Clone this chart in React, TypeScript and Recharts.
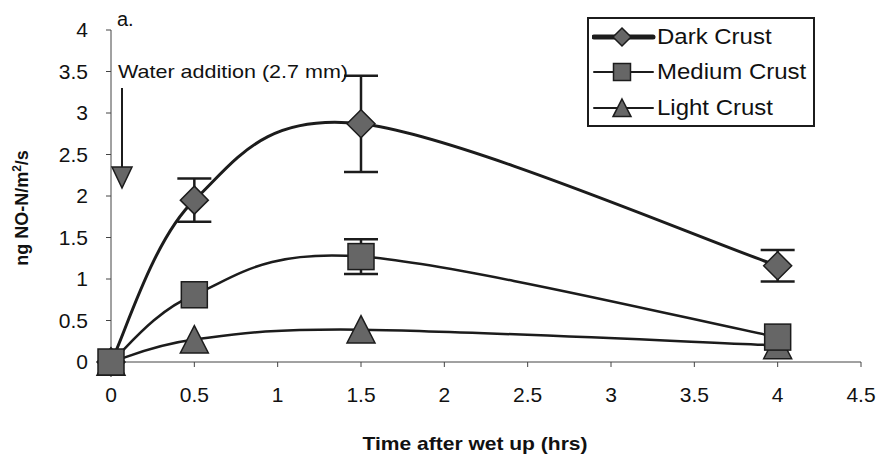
import { LineChart, Line, XAxis, YAxis, ErrorBar, Legend } from 'recharts'

const hours = [0, 0.5, 1.5, 4]
const darkCrust = [0, 1.95, 2.87, 1.16]
const darkCrustErr = [null, 0.26, 0.58, 0.19]
const mediumCrust = [0, 0.81, 1.27, 0.3]
const mediumCrustErr = [null, null, 0.21, null]
const lightCrust = [0, 0.27, 0.39, 0.2]

const xTicks = [0, 0.5, 1, 1.5, 2, 2.5, 3, 3.5, 4, 4.5]
const yTicks = [0, 0.5, 1, 1.5, 2, 2.5, 3, 3.5, 4]
const seriesNames = ['Dark Crust', 'Medium Crust', 'Light Crust']

const data = hours.map((h, i) => ({
  hours: h,
  dark: darkCrust[i],
  darkErr: darkCrustErr[i],
  medium: mediumCrust[i],
  mediumErr: mediumCrustErr[i],
  light: lightCrust[i],
}))

const FONT = "'Liberation Sans', Arial, sans-serif"
const INK = '#1c1c1c'
const MARKER_FILL = '#666'

// Excel-like smoothed line (Catmull-Rom through the points)
function smoothCurve(context: any) {
  let pts: [number, number][] = []
  return {
    areaStart() {},
    areaEnd() {},
    lineStart() { pts = [] },
    point(x: number, y: number) { pts.push([x, y]) },
    lineEnd() {
      if (!pts.length) return
      context.moveTo(pts[0][0], pts[0][1])
      for (let i = 0; i < pts.length - 1; i++) {
        const p0 = pts[i - 1] || pts[i]
        const p1 = pts[i]
        const p2 = pts[i + 1]
        const p3 = pts[i + 2] || p2
        const t = 1 / 6
        context.bezierCurveTo(
          p1[0] + (p2[0] - p0[0]) * t, p1[1] + (p2[1] - p0[1]) * t,
          p2[0] - (p3[0] - p1[0]) * t, p2[1] - (p3[1] - p1[1]) * t,
          p2[0], p2[1],
        )
      }
    },
  }
}

function Diamond({ cx, cy, s = 14 }: { cx: number; cy: number; s?: number }) {
  return (
    <polygon
      points={`${cx},${cy - s} ${cx + s},${cy} ${cx},${cy + s} ${cx - s},${cy}`}
      fill={MARKER_FILL} stroke={INK} strokeWidth={1.5}
    />
  )
}

function Square({ cx, cy, s = 13 }: { cx: number; cy: number; s?: number }) {
  return <rect x={cx - s} y={cy - s} width={s * 2} height={s * 2} fill={MARKER_FILL} stroke={INK} strokeWidth={1.5} />
}

function Triangle({ cx, cy, s = 14 }: { cx: number; cy: number; s?: number }) {
  return (
    <polygon
      points={`${cx},${cy - s} ${cx + s},${cy + s * 0.95} ${cx - s},${cy + s * 0.95}`}
      fill={MARKER_FILL} stroke={INK} strokeWidth={1.5}
    />
  )
}

function LegendBox() {
  const rows = [
    { name: seriesNames[0], width: 5, mark: <Diamond cx={30} cy={18} s={9} /> },
    { name: seriesNames[1], width: 2, mark: <Square cx={30} cy={18} s={8.5} /> },
    { name: seriesNames[2], width: 2, mark: <Triangle cx={30} cy={18} s={9} /> },
  ]
  return (
    <div style={{
      width: 228, height: 110, boxSizing: 'border-box', border: `2px solid ${INK}`,
      background: '#fff', fontFamily: FONT, fontSize: 22, color: '#111',
    }}>
      {rows.map(r => (
        <div key={r.name} style={{ display: 'flex', alignItems: 'center', height: 35.5 }}>
          <svg width={66} height={36} style={{ marginLeft: 3 }}>
            <line x1={2} x2={61} y1={18} y2={18} stroke={INK} strokeWidth={r.width} strokeLinecap="round" />
            {r.mark}
          </svg>
          <span style={{ marginLeft: -1, display: 'inline-block', transform: 'scaleX(1.09)', transformOrigin: 'left center', whiteSpace: 'nowrap' }}>
            {r.name}
          </span>
        </div>
      ))}
    </div>
  )
}

const tickStyle = { fontSize: 21, fontFamily: FONT, fill: '#111' }

export default function App() {
  return (
    <div style={{ position: 'absolute', left: 0, top: 0, width: 881, height: 461, background: '#fff' }}>
      <LineChart width={881} height={461} data={data} margin={{ top: 30, right: 20, bottom: 0, left: 0 }}>
        <XAxis
          dataKey="hours" type="number" domain={[0, 4.5]} ticks={xTicks}
          tick={tickStyle} tickLine={{ stroke: '#444' }} axisLine={{ stroke: '#444' }}
          tickSize={5} tickMargin={20} height={99} interval={0}
        />
        <YAxis
          type="number" domain={[0, 4]} ticks={yTicks}
          tick={tickStyle} tickLine={{ stroke: '#444' }} axisLine={{ stroke: '#444' }}
          tickSize={5} tickMargin={18} width={111} interval={0}
        />
        <Legend
          layout="vertical" align="center" verticalAlign="middle"
          wrapperStyle={{ position: 'absolute', left: 587, top: 17, width: 228, height: 110 }}
          content={() => <LegendBox />}
        />
        <Line
          dataKey="light" type={smoothCurve as any} stroke={INK} strokeWidth={2.5}
          dot={(p: any) => <Triangle key={p.index} cx={p.cx} cy={p.cy} />}
          activeDot={false} isAnimationActive={false}
        />
        <Line
          dataKey="dark" type={smoothCurve as any} stroke={INK} strokeWidth={3}
          dot={(p: any) => <Diamond key={p.index} cx={p.cx} cy={p.cy} />}
          activeDot={false} isAnimationActive={false}
        >
          <ErrorBar dataKey="darkErr" width={17} stroke={INK} strokeWidth={2.5} direction="y" />
        </Line>
        <Line
          dataKey="medium" type={smoothCurve as any} stroke={INK} strokeWidth={2.5}
          dot={(p: any) => <Square key={p.index} cx={p.cx} cy={p.cy} />}
          activeDot={false} isAnimationActive={false}
        >
          <ErrorBar dataKey="mediumErr" width={17} stroke={INK} strokeWidth={2.5} direction="y" />
        </Line>
      </LineChart>
      <svg width={881} height={461} style={{ position: 'absolute', left: 0, top: 0, pointerEvents: 'none' }}>
        <text x={117} y={26} fontFamily={FONT} fontSize={20} fill="#111">a.</text>
        <text x={118} y={78} fontFamily={FONT} fontSize={19} fill="#111" textLength={230} lengthAdjust="spacingAndGlyphs">
          Water addition (2.7 mm)
        </text>
        <line x1={122} x2={122} y1={88} y2={168} stroke={INK} strokeWidth={2} />
        <polygon points="112,167 132,167 122,188" fill={MARKER_FILL} stroke={INK} strokeWidth={1.5} />
        <text x={475} y={450} textAnchor="middle" fontFamily={FONT} fontWeight="bold" fontSize={19} fill="#111"
          textLength={225} lengthAdjust="spacingAndGlyphs">
          Time after wet up (hrs)
        </text>
        <text transform="translate(28,208) rotate(-90)" textAnchor="middle" fontFamily={FONT} fontWeight="bold" fontSize={18} fill="#111">
          ng NO-N/m<tspan dy={-7} fontSize={12}>2</tspan><tspan dy={7}>/s</tspan>
        </text>
      </svg>
    </div>
  )
}
